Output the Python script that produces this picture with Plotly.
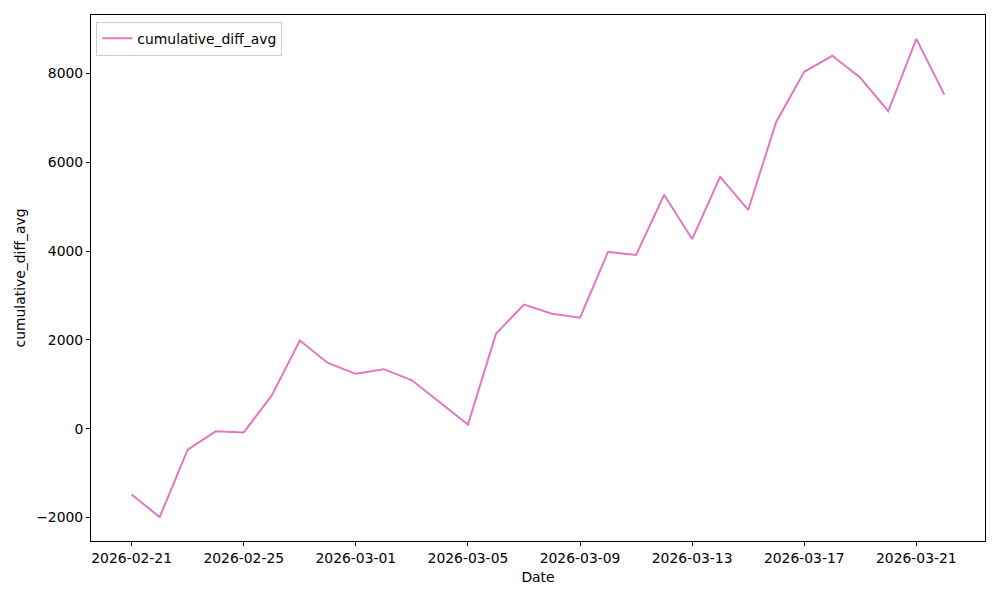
import pandas as pd
import plotly.graph_objects as go

dates = pd.date_range("2026-02-21", "2026-03-22", freq="D")
values = [-1480, -1990, -470, -60, -85, 750, 1985, 1480, 1235, 1340,
          1090, 595, 95, 2135, 2795, 2590, 2500, 3980, 3910, 5265,
          4270, 5670, 4925, 6905, 8035, 8395, 7900, 7150, 8775, 7520]
series_name = "cumulative_diff_avg"
tick_dates = pd.date_range("2026-02-21", "2026-03-21", freq="4D")
y_ticks = [-2000, 0, 2000, 4000, 6000, 8000]

fig = go.Figure()
fig.add_trace(go.Scatter(x=dates, y=values, mode="lines", name=series_name,
                         line=dict(color="#e377c2", width=2)))

pad = pd.Timedelta(days=1.45)
span = max(values) - min(values)
font = dict(family="DejaVu Sans", size=13.9, color="black")
fig.update_layout(
    width=1000, height=600,
    margin=dict(l=91, r=15, t=15, b=59),
    paper_bgcolor="white", plot_bgcolor="white",
    font=font,
    showlegend=True,
    legend=dict(x=0.006, y=0.987, xanchor="left", yanchor="top",
                bgcolor="rgba(255,255,255,0.8)", bordercolor="#cccccc", borderwidth=1,
                font=dict(family="DejaVu Sans", size=13.9)),
    xaxis=dict(
        title=dict(text="Date", font=font, standoff=7),
        range=[dates[0] - pad, dates[-1] + pad],
        tickvals=tick_dates, ticktext=[d.strftime("%Y-%m-%d") for d in tick_dates],
        showgrid=False, zeroline=False,
        showline=True, mirror=True, linecolor="black", linewidth=1,
        ticks="outside", ticklen=4, tickcolor="black",
    ),
    yaxis=dict(
        title=dict(text=series_name, font=font, standoff=7),
        range=[min(values) - 0.05 * span, max(values) + 0.05 * span],
        tickvals=y_ticks,
        showgrid=False, zeroline=False,
        showline=True, mirror=True, linecolor="black", linewidth=1,
        ticks="outside", ticklen=4, tickcolor="black",
    ),
)
fig.write_html("out.html", config={"displayModeBar": False},
               post_script="document.body.style.margin='0';")
